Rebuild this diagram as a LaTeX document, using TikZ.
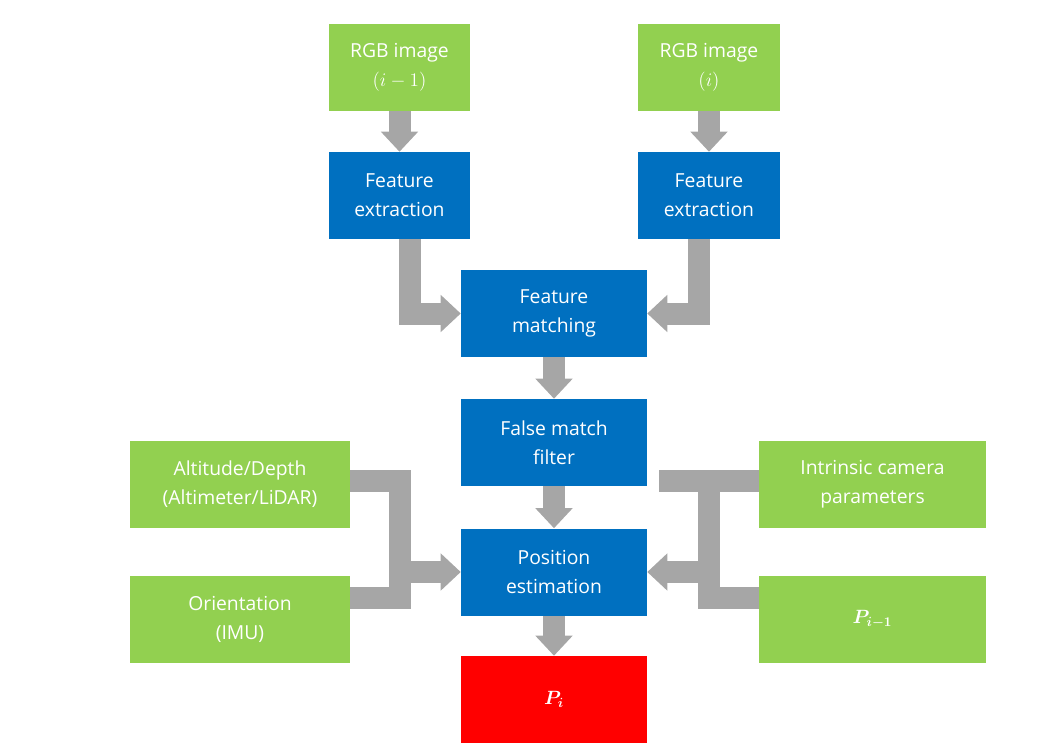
\documentclass[tikz,border=0pt]{standalone}
\usepackage{fontspec}
\usepackage{bm}
\setmainfont{Open Sans}
\usetikzlibrary{arrows.meta}
\definecolor{gr}{HTML}{92D050}
\definecolor{bl}{HTML}{0070C0}
\definecolor{ar}{HTML}{A6A6A6}
\begin{document}
\begin{tikzpicture}[x=0.75pt,y=-0.75pt,
 box/.style={draw=none,minimum width=#1*0.75pt,minimum height=87*0.75pt,inner sep=0pt,text=white,align=center,font=\fontsize{14.5}{22}\selectfont},
 g/.style={box=#1,fill=gr},
 b/.style={box=186,fill=bl},
 fat/.style={draw=ar,line width=16.5pt,line join=miter},
 arr/.style={fat,-{Triangle[width=27pt,length=15pt]}}]
\useasboundingbox (0,0) rectangle (1051,747);
\node[g=141] (rgb1) at (399.5,67.5) {RGB image\\$(i-1)$};
\node[g=142] (rgb2) at (709,67.5) {RGB image\\$(i)$};
\node[g=141,fill=bl] (fe1) at (399.5,195.5) {Feature\\extraction};
\node[g=142,fill=bl] (fe2) at (709,195.5) {Feature\\extraction};
\node[b] (fm) at (554,313.5) {Feature\\matching};
\node[b] (ff) at (554,442.5) {False match\\filter};
\node[b] (pe) at (554,572) {Position\\estimation};
\node[box=186,fill=red] (pi) at (554,699.5) {\Large$\bm{P}_{\bm{i}}$};
\node[g=220] (alt) at (240,484.5) {Altitude/Depth\\(Altimeter/LiDAR)};
\node[g=220] (ori) at (240,619.5) {Orientation\\(IMU)};
\node[g=227] (intr) at (872.5,484.5) {Intrinsic camera\\parameters};
\node[g=227] (pim) at (872.5,619.5) {\Large$\bm{P}_{\bm{i-1}}$};
\draw[arr] (rgb1) -- (fe1);
\draw[arr] (rgb2) -- (fe2);
\draw[arr] ([xshift=7.5]fe1.south) |- (fm.west);
\draw[arr] ([xshift=-7.5]fe2.south) |- (fm.east);
\draw[arr] (fm) -- (ff);
\draw[arr] (ff) -- (pe);
\draw[arr] (pe) -- (pi);
\draw[fat] ([yshift=3]alt.east) -- ++(50,0) coordinate (lb) |- ([yshift=16]ori.east);
\draw[arr] (lb |- pe.west) -- (pe.west);
\draw[fat] ([yshift=3]intr.east) ++(-277,0) -- ++(-50,0);
\draw[fat] ([yshift=3]intr.west) -- ++(-50,0) coordinate (rb) |- ([yshift=16]pim.west);
\draw[arr] (rb |- pe.east) -- (pe.east);
\end{tikzpicture}
\end{document}
